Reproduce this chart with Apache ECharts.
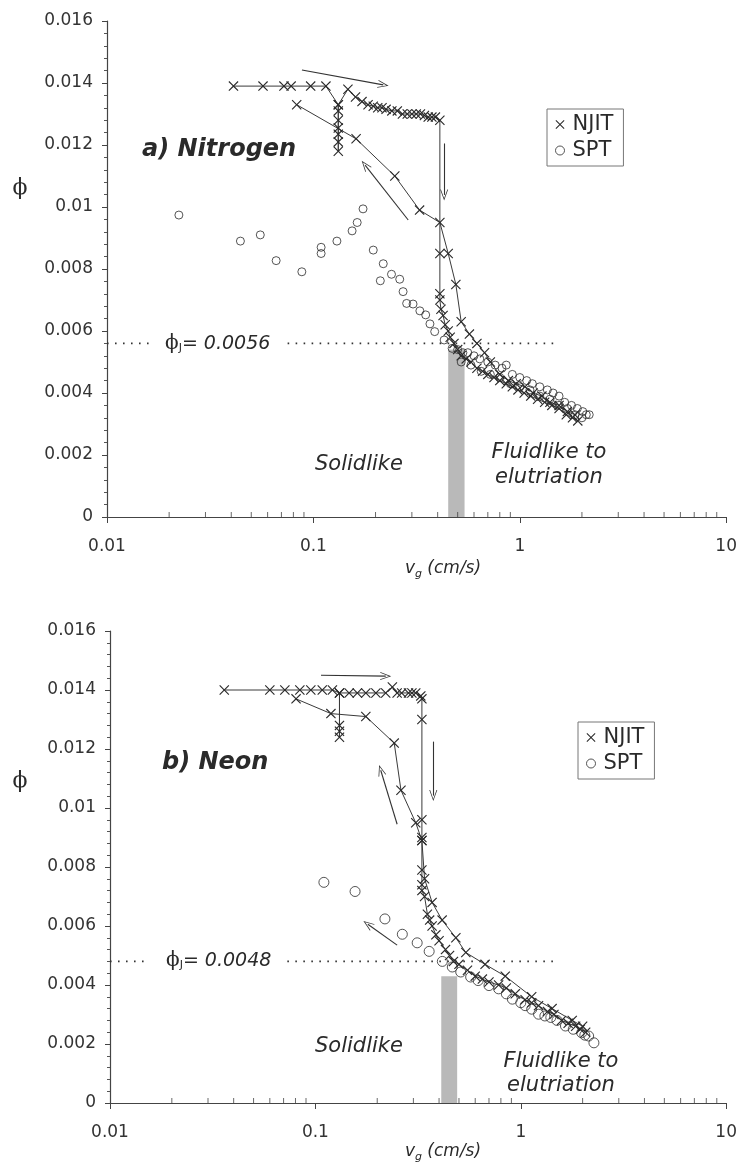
<!DOCTYPE html>
<html>
<head>
<meta charset="utf-8">
<script src="https://cdn.jsdelivr.net/npm/echarts@6/dist/echarts.min.js"></script>
<style>
  html, body { margin: 0; padding: 0; background: #fff; }
  #chart { width: 740px; height: 1169px; }
</style>
</head>
<body>
<div id="chart"></div>
<script>
// ---------- data: packing fraction phi vs. gas velocity v_g (cm/s) ----------
// a) Nitrogen
const n2NjitUp = [
  [0.041,0.0139],[0.057,0.0139],[0.072,0.0139],[0.078,0.0139],[0.097,0.0139],[0.115,0.0139],
  [0.132,0.0133],[0.132,0.0131],[0.132,0.0128],[0.132,0.01255],[0.132,0.01235],[0.132,0.0121],[0.132,0.0118],[0.132,0.0133],
  [0.147,0.0138],[0.160,0.01355],[0.172,0.0134],[0.184,0.0133],[0.195,0.01325],[0.205,0.0132],[0.215,0.0132],[0.225,0.01315],
  [0.24,0.0131],[0.255,0.0131],[0.27,0.0130],[0.285,0.0130],[0.30,0.0130],[0.315,0.0130],[0.33,0.0130],[0.345,0.01295],
  [0.36,0.0129],[0.375,0.0129],[0.39,0.0129],[0.41,0.0128],
  [0.41,0.0085],[0.41,0.0072],[0.41,0.0070],[0.415,0.0067],[0.425,0.0065],[0.435,0.0062],[0.45,0.0060],[0.46,0.0058],
  [0.48,0.0056],[0.50,0.0054],[0.52,0.0052],[0.55,0.0051],[0.58,0.0050],[0.62,0.0048],[0.66,0.0047],[0.70,0.0046],
  [0.75,0.0045],[0.80,0.0044],[0.86,0.0043],[0.92,0.0042],[0.98,0.0041],[1.05,0.0040],[1.13,0.0039],[1.22,0.0038],
  [1.32,0.0037],[1.43,0.0036],[1.55,0.0035],[1.68,0.0033],[1.80,0.0032],[1.91,0.0031]
];
const n2NjitDown = [
  [1.85,0.0033],[1.70,0.0034],[1.55,0.0036],[1.40,0.0037],[1.28,0.0039],[1.16,0.0040],[1.06,0.0042],[0.96,0.0043],
  [0.88,0.0044],[0.80,0.0046],[0.72,0.0050],[0.675,0.0053],[0.62,0.0056],[0.57,0.0059],[0.52,0.0063],[0.49,0.0075],
  [0.45,0.0085],[0.41,0.0095],[0.327,0.0099],[0.248,0.0110],[0.161,0.0122],[0.083,0.0133]
];
const n2Spt = [
  [0.0223,0.00974],[0.0443,0.0089],[0.0553,0.0091],[0.066,0.00827],[0.0879,0.00791],[0.109,0.0087],[0.109,0.0085],
  [0.130,0.0089],[0.154,0.00923],[0.163,0.0095],[0.174,0.00994],[0.195,0.00861],[0.218,0.00817],[0.211,0.00762],
  [0.239,0.00783],[0.262,0.00767],[0.272,0.00727],[0.283,0.00689],[0.304,0.00687],[0.328,0.00665],[0.35,0.00652],
  [0.367,0.00623],[0.387,0.00598],[0.43,0.00571],[0.47,0.00544],
  [0.50,0.0054],[0.53,0.0053],[0.56,0.0053],[0.60,0.0052],[0.64,0.0051],[0.70,0.0050],[0.76,0.0049],[0.82,0.0048],
  [0.86,0.0049],[0.92,0.0046],[1.0,0.0045],[1.08,0.0044],[1.15,0.0043],[1.25,0.0042],[1.36,0.0041],[1.45,0.0040],
  [1.55,0.0039],[1.65,0.0037],[1.78,0.0036],[1.9,0.0035],[2.02,0.0034],[2.1,0.0033],[2.17,0.0033],
  [0.52,0.0050],[0.58,0.0049],[0.65,0.0047],[0.72,0.0046],[0.80,0.0045],[0.9,0.0043],[1.0,0.0042],[1.12,0.0041],
  [1.25,0.0039],[1.4,0.0038],[1.55,0.0036],[1.7,0.0035],[1.85,0.0033],[2.0,0.0032]
];

// b) Neon
const neNjitUp = [
  [0.036,0.0140],[0.060,0.0140],[0.071,0.0140],[0.084,0.0140],[0.095,0.0140],[0.108,0.0140],[0.121,0.0140],
  [0.131,0.0139],[0.131,0.0128],[0.131,0.0126],[0.131,0.0124],[0.131,0.0139],
  [0.146,0.0139],[0.160,0.0139],[0.176,0.0139],[0.197,0.0139],[0.220,0.0139],[0.237,0.0141],[0.250,0.0139],
  [0.263,0.0139],[0.284,0.0139],[0.295,0.0139],[0.308,0.0139],[0.326,0.0138],[0.33,0.0137],
  [0.33,0.0130],[0.33,0.0096],[0.33,0.0090],[0.33,0.0089],[0.33,0.0079],[0.33,0.0074],[0.33,0.0072],[0.34,0.0070],
  [0.351,0.0064],[0.36,0.0062],[0.37,0.0060],[0.386,0.0057],[0.40,0.0055],[0.43,0.0052],[0.45,0.0050],[0.47,0.0048],
  [0.50,0.0047],[0.55,0.0045],[0.60,0.0043],[0.65,0.0042],[0.70,0.0041],[0.78,0.0040],[0.85,0.0039],[0.94,0.0037],
  [1.05,0.0035],[1.13,0.0034],[1.22,0.0033],[1.35,0.0031],[1.45,0.0030],[1.58,0.0028],[1.70,0.0027],[1.85,0.0026],
  [1.95,0.0025],[2.07,0.0024]
];
const neNjitDown = [
  [2.00,0.0026],[1.78,0.0028],[1.42,0.0032],[1.13,0.0036],[0.84,0.0043],[0.67,0.0047],[0.54,0.0051],[0.483,0.0056],
  [0.414,0.0062],[0.37,0.0068],[0.34,0.0076],[0.33,0.0089],[0.308,0.0095],[0.261,0.0106],[0.242,0.0122],
  [0.176,0.0131],[0.119,0.0132],[0.0805,0.0137]
];
const neSpt = [
  [0.110,0.00748],[0.156,0.00717],[0.218,0.00624],[0.265,0.00572],[0.313,0.00543],[0.358,0.00514],[0.415,0.0048],
  [0.464,0.00461],[0.51,0.00444],[0.57,0.00427],[0.62,0.00415],[0.70,0.00398],[0.78,0.00387],[0.85,0.0037],
  [0.91,0.00352],[1.0,0.0034],[1.05,0.0033],[1.13,0.00318],[1.22,0.00301],[1.31,0.00295],[1.4,0.0029],[1.5,0.0028],
  [1.65,0.00261],[1.8,0.0025],[1.98,0.00238],[2.05,0.0023],[2.14,0.00227],[2.27,0.00204]
];

// jamming packing fraction and the v_g spans of its dotted guide line
const phiJ = [0.0056, 0.0048];
const phiJSpans = [[[0.01, 0.017], [0.075, 1.47]], [[0.01, 0.0156], [0.073, 1.47]]];
// shaded transition band: [vMin, vMax, phiTop]
const bands = [[0.45, 0.54, 0.0054], [0.41, 0.49, 0.0043]];
// direction arrows: [v1, phi1, v2, phi2]
const arrowsN2 = [[0.088,0.01442,0.218,0.01394],[0.43,0.01205,0.43,0.01039],[0.288,0.00958,0.178,0.01135]];
const arrowsNe = [[0.1065,0.0145,0.22,0.01447],[0.375,0.01225,0.375,0.01042],[0.25,0.00945,0.208,0.01128],[0.25,0.00535,0.18,0.00606]];

// tick labels
const yTickLabels = ['0','0.002','0.004','0.006','0.008','0.01','0.012','0.014','0.016'];
const xTickLabels = ['0.01','0.1','1','10'];
const xMinorTicks = [0.02,0.03,0.04,0.05,0.06,0.07,0.08,0.09,0.2,0.3,0.4,0.5,0.6,0.7,0.8,0.9,2,3,4,5,6,7,8,9];

// ---------- styling ----------
const FONT = 'DejaVu Sans';
const INK = '#2a2a2a';
const CROSS = 'path://M0,0.8 L0.8,0 L5,4.2 L9.2,0 L10,0.8 L5.8,5 L10,9.2 L9.2,10 L5,5.8 L0.8,10 L0,9.2 L4.2,5 Z';
const CHEVRON = 'path://M5,0 L10,10 L9,10 L5,2 L1,10 L0,10 Z';

const grids = [
  { left: 107, right: 11, top: 21, height: 496 },
  { left: 110, right: 12, top: 631, height: 472 }
];

function xAxisFor(i) {
  return {
    type: 'log', logBase: 10, min: 0.01, max: 10, gridIndex: i,
    axisLine: { lineStyle: { color: '#444', width: 1.2 } },
    axisTick: { show: true, length: 6, lineStyle: { color: '#444' } },
    splitLine: { show: false },
    axisLabel: {
      margin: 21, color: '#333', fontFamily: FONT, fontSize: 17,
      formatter: v => xTickLabels[Math.round(Math.log10(v)) + 2]
    }
  };
}
function yAxisFor(i) {
  return {
    type: 'value', min: 0, max: 0.016, interval: 0.002, gridIndex: i,
    axisLine: { show: true, lineStyle: { color: '#444', width: 1.2 } },
    axisTick: { show: true, length: 5, lineStyle: { color: '#444' } },
    minorTick: { show: true, splitNumber: 5, length: 3, lineStyle: { color: '#555' } },
    splitLine: { show: false },
    axisLabel: {
      margin: 14, color: '#333', fontFamily: FONT, fontSize: 17,
      formatter: v => yTickLabels[Math.round(v / 0.002)]
    }
  };
}

function panelSeries(i, up, down, spt, phi, spans, band, arrows) {
  const njitStyle = {
    type: 'line', name: 'NJIT', xAxisIndex: i, yAxisIndex: i,
    symbol: CROSS, symbolSize: 10, showSymbol: true, z: 4,
    itemStyle: { color: INK },
    lineStyle: { color: '#3a3a3a', width: 1 }
  };
  const list = [
    // shaded transition band
    {
      type: 'line', xAxisIndex: i, yAxisIndex: i, data: [], z: 1, silent: true,
      markArea: {
        silent: true, itemStyle: { color: '#b9b9b9' },
        data: [[{ coord: [band[0], 0] }, { coord: [band[1], band[2]] }]]
      }
    },
    Object.assign({ data: up }, njitStyle),
    Object.assign({ data: down }, njitStyle),
    {
      type: 'scatter', name: 'SPT', xAxisIndex: i, yAxisIndex: i, data: spt, z: 3,
      symbol: 'circle', symbolSize: i === 0 ? 8 : 10,
      itemStyle: { color: 'rgba(0,0,0,0)', borderColor: INK, borderWidth: 1 }
    },
    // minor ticks of the log axis (2..9 of each decade)
    {
      type: 'scatter', xAxisIndex: i, yAxisIndex: i, silent: true, z: 6,
      data: xMinorTicks.map(v => [v, 0]),
      symbol: 'rect', symbolSize: [1, 5], symbolOffset: [0, -2.5],
      itemStyle: { color: '#444' }
    },
    // arrows
    {
      type: 'line', xAxisIndex: i, yAxisIndex: i, data: [], z: 5, silent: true,
      markLine: {
        silent: true, symbol: ['none', CHEVRON], symbolSize: [8, 11],
        label: { show: false },
        lineStyle: { color: '#333', width: 1.1, type: 'solid' },
        data: arrows.map(a => [{ coord: [a[0], a[1]] }, { coord: [a[2], a[3]] }])
      }
    }
  ];
  // dotted phi_J guide line
  spans.forEach(s => list.push({
    type: 'line', xAxisIndex: i, yAxisIndex: i, silent: true, z: 2,
    data: [[s[0], phi], [s[1], phi]], symbol: 'none',
    lineStyle: { color: '#333', width: 1.6, type: [1.6, 6.4] }
  }));
  return list;
}

function legendFor(left, top) {
  return {
    left: left, top: top, orient: 'vertical',
    data: [
      { name: 'NJIT', icon: CROSS, itemStyle: { color: INK } },
      { name: 'SPT', icon: 'circle', itemStyle: { color: 'rgba(0,0,0,0)', borderColor: INK, borderWidth: 1 } }
    ],
    itemWidth: 9, itemHeight: 9, itemGap: 5,
    borderColor: '#777', borderWidth: 1, padding: [5, 10, 5, 8],
    textStyle: { fontFamily: FONT, fontSize: 21, color: INK, padding: [0, 0, 0, 3] },
    selectedMode: false
  };
}

function txt(x, y, text, font, align) {
  return {
    type: 'text', x: x, y: y, silent: true,
    style: { text: text, font: font, fill: INK, align: align || 'left', verticalAlign: 'middle' }
  };
}
function phiJLabel(x, y, value) {
  return {
    type: 'text', x: x, y: y, silent: true,
    style: {
      text: '{p|ϕ}{s|J}{t|= ' + value + '}', align: 'left', verticalAlign: 'middle',
      rich: {
        p: { font: '20px "DejaVu Serif"', fill: INK },
        s: { font: '11px "DejaVu Sans"', fill: INK, padding: [9, 0, 0, 0] },
        t: { font: 'italic 19px "DejaVu Sans"', fill: INK }
      }
    }
  };
}
function vgLabel(x, y) {
  return {
    type: 'text', x: x, y: y, silent: true,
    style: {
      text: '{v|v}{s|g}{t| (cm/s)}', align: 'center', verticalAlign: 'middle',
      rich: {
        v: { font: 'italic 17px "DejaVu Sans"', fill: INK },
        s: { font: 'italic 11px "DejaVu Sans"', fill: INK, padding: [10, 0, 0, 0] },
        t: { font: 'italic 17px "DejaVu Sans"', fill: INK }
      }
    }
  };
}

const option = {
  animation: false,
  backgroundColor: '#fff',
  grid: grids,
  xAxis: [xAxisFor(0), xAxisFor(1)],
  yAxis: [yAxisFor(0), yAxisFor(1)],
  legend: [legendFor(547, 109), legendFor(578, 722)],
  series: [].concat(
    panelSeries(0, n2NjitUp, n2NjitDown, n2Spt, phiJ[0], phiJSpans[0], bands[0], arrowsN2),
    panelSeries(1, neNjitUp, neNjitDown, neSpt, phiJ[1], phiJSpans[1], bands[1], arrowsNe)
  ),
  graphic: [
    // panel a
    txt(142, 150, 'a) Nitrogen', 'italic bold 24px "DejaVu Sans"'),
    txt(315, 465, 'Solidlike', 'italic 21px "DejaVu Sans"'),
    txt(549, 453, 'Fluidlike to', 'italic 21px "DejaVu Sans"', 'center'),
    txt(549, 478, 'elutriation', 'italic 21px "DejaVu Sans"', 'center'),
    phiJLabel(165, 344, '0.0056'),
    txt(20, 188, 'ϕ', '22px "DejaVu Serif"', 'center'),
    vgLabel(443, 569),
    // panel b
    txt(162, 763, 'b) Neon', 'italic bold 24px "DejaVu Sans"'),
    txt(315, 1047, 'Solidlike', 'italic 21px "DejaVu Sans"'),
    txt(561, 1062, 'Fluidlike to', 'italic 21px "DejaVu Sans"', 'center'),
    txt(561, 1086, 'elutriation', 'italic 21px "DejaVu Sans"', 'center'),
    phiJLabel(166, 961, '0.0048'),
    txt(20, 781, 'ϕ', '22px "DejaVu Serif"', 'center'),
    vgLabel(443, 1152)
  ]
};

const chart = echarts.init(document.getElementById('chart'), null, { renderer: 'canvas' });
chart.setOption(option);
</script>
</body>
</html>
